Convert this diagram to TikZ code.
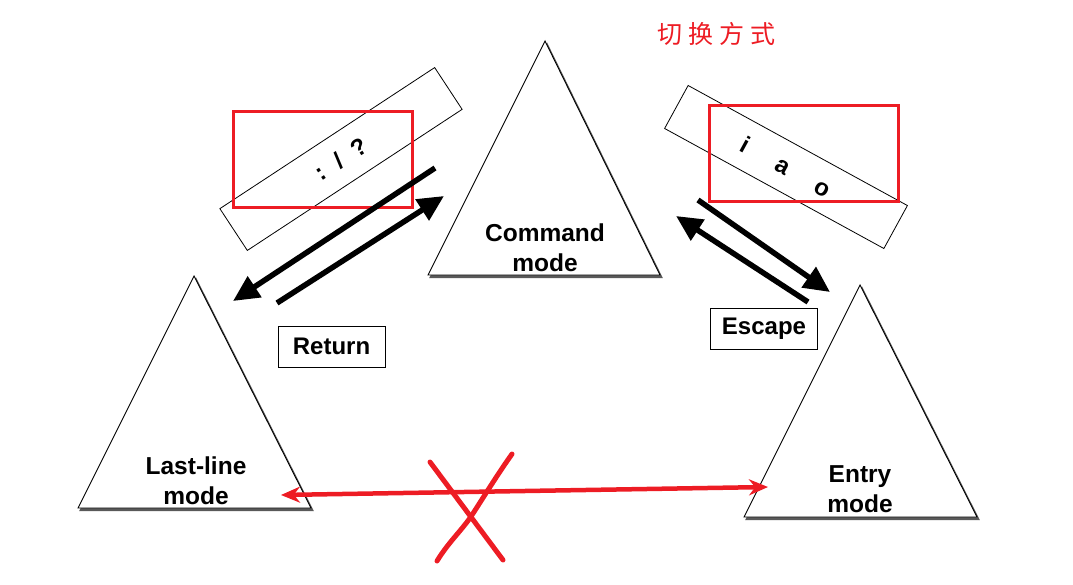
\documentclass[tikz,border=0pt]{standalone}
\usepackage{fontspec}
\setmainfont{Liberation Sans}
\newfontfamily\cjk{Noto Sans CJK SC}
\usetikzlibrary{arrows.meta}
\definecolor{xred}{RGB}{237,28,36}
\tikzset{
  tri/.style={draw=black, line width=0.9pt, fill=white, line join=miter},
  trishadow/.style={fill=black!65, draw=black!65, line width=1pt},
  lbl/.style={font=\fontsize{24.5}{30}\selectfont\bfseries, align=center, inner sep=0pt},
  keybox/.style={draw=black, line width=0.9pt, fill=white, minimum width=107pt, minimum height=41pt, inner sep=0pt, font=\fontsize{24}{28}\selectfont\bfseries},
  rotbox/.style={draw=black, line width=0.8pt, inner sep=0pt, font=\fontsize{24}{26}\selectfont\bfseries},
  redbox/.style={draw=xred, line width=3pt},
  bigarrow/.style={line width=5.5pt, black, -{Triangle[length=26pt, width=24pt]}},
  redarrow/.style={line width=4.5pt, xred, {Stealth[length=19pt, width=16pt]}-{Stealth[length=19pt, width=16pt]}},
  cross/.style={line width=5pt, xred, line cap=round, line join=round}
}
\begin{document}
\begin{tikzpicture}[x=1pt, y=-1pt]
\useasboundingbox (0,0) rectangle (1073,584);
% ---- triangles with shadows
% Command
\coordinate (cA) at (545,41); \coordinate (cL) at (428,275); \coordinate (cR) at (660,275);
\fill[trishadow] ([shift={(2,2.5)}]cA) -- ([shift={(2,2.5)}]cR) -- ([shift={(2,2.5)}]cL) -- cycle;
\draw[tri] (cA) -- (cR) -- (cL) -- cycle;
% Last-line
\coordinate (lA) at (194,276); \coordinate (lL) at (78,508); \coordinate (lR) at (311,508);
\fill[trishadow] ([shift={(2,2.5)}]lA) -- ([shift={(2,2.5)}]lR) -- ([shift={(2,2.5)}]lL) -- cycle;
\draw[tri] (lA) -- (lR) -- (lL) -- cycle;
% Entry
\coordinate (eA) at (860,285); \coordinate (eL) at (744,517); \coordinate (eR) at (977,517);
\fill[trishadow] ([shift={(2,2.5)}]eA) -- ([shift={(2,2.5)}]eR) -- ([shift={(2,2.5)}]eL) -- cycle;
\draw[tri] (eA) -- (eR) -- (eL) -- cycle;
% labels
\node[lbl] (cmd) at (545,248) {Command\\mode};
\node[lbl] (last) at (196,481) {Last-line\\mode};
\node[lbl] (entry) at (860,489) {Entry\\mode};
% key boxes
\node[keybox] (ret) at (331.5,346.5) {Return};
\node[keybox] (esc) at (764,329) {Escape};
% rotated boxes
\node[rotbox, rotate=33.3, minimum width=257pt, minimum height=50pt] (lbox) at (341,159) {:\hspace{14pt}/\hspace{14pt}?};
\node[rotbox, rotate=-28.7, minimum width=250pt, minimum height=49pt] (rbox) at (786,167) {i\hspace{33pt}a\hspace{31pt}o};
% red boxes
\draw[redbox] (233,111) rectangle (412,207);
\draw[redbox] (709,105) rectangle (898,201);
% black arrows
\coordinate (a1s) at (435,168); \coordinate (a1e) at (233,301);
\coordinate (a2s) at (277,303); \coordinate (a2e) at (444,196);
\coordinate (a3s) at (698,200); \coordinate (a3e) at (830,292);
\coordinate (a4s) at (808,302); \coordinate (a4e) at (676,216);
\draw[bigarrow] (a1s) -- (a1e);
\draw[bigarrow] (a2s) -- (a2e);
\draw[bigarrow] (a3s) -- (a3e);
\draw[bigarrow] (a4s) -- (a4e);
% red double arrow
\coordinate (rl) at (281,495); \coordinate (rr) at (768,487);
\draw[redarrow] (rl) -- (rr);
% red cross
\coordinate (x1a) at (430,462); \coordinate (x1b) at (503,560);
\coordinate (x2a) at (512,454); \coordinate (x2b) at (437,561);
\draw[cross] (x1a) -- (x1b);
\draw[cross] (x2a) .. controls (495,478) and (480,503) .. (470,518) .. controls (460,532) and (448,543) .. (x2b);
% title
\node[text=xred, font=\cjk\fontsize{25}{28}\selectfont, inner sep=0pt] (title) at (716,34) {切\hspace{6pt}换\hspace{6pt}方\hspace{6pt}式};
\end{tikzpicture}
\end{document}
